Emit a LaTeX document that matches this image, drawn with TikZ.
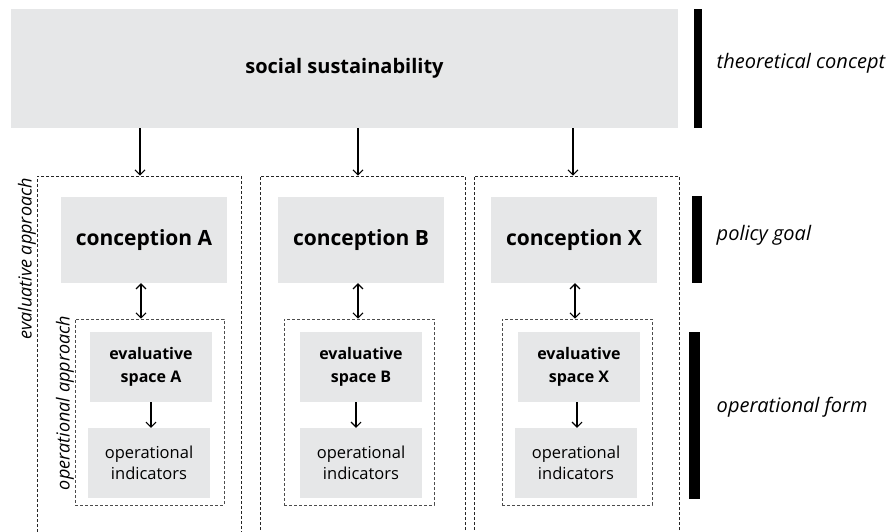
\documentclass[tikz,border=0pt]{standalone}
\usepackage{fontspec}
\setsansfont{Open Sans}
\renewcommand{\familydefault}{\sfdefault}
\usetikzlibrary{arrows.meta,positioning}
\definecolor{boxgray}{HTML}{E6E7E8}
\tikzset{
	graybox/.style={fill=boxgray, inner sep=0pt, align=center},
	frame/.style={draw=black!85, dash pattern=on 3pt off 2pt, line width=0.7pt, inner sep=0pt},
	arr/.style={line width=1.1pt, -{Straight Barb[length=5pt,width=10pt]}},
	darr/.style={line width=1.1pt, {Straight Barb[length=5pt,width=10pt]}-{Straight Barb[length=5pt,width=10pt]}},
	bar/.style={fill=black, inner sep=0pt},
	side/.style={font=\fontsize{20}{24}\selectfont\itshape},
	approach/.style={rotate=90, font=\fontsize{18}{22}\selectfont\itshape}
}

\begin{document}
\begin{tikzpicture}[x=1pt,y=-1pt]
		\clip (0,0) rectangle (894,531);
		\node[graybox, minimum width=667pt, minimum height=119pt, font=\fontsize{20}{24}\selectfont\bfseries] (top) at (344.5,68.5) {social sustainability};
		% one column per conception
		\foreach \n/\fl/\fr/\cx/\il/\ir/\ex/\nx/\ax/\dx/\sx in {A/37/241/144/75/224/151/149/140/141/151, B/260/465/361/284/434/361/361/358/358/356, X/474/679/574/502/652/579/576/573/575/577}
		{
			\node[frame, minimum width={(\fr-\fl)*1pt}, minimum height=384pt] (out\n) at ({(\fl+\fr)/2}, 368) {};
			\node[frame, draw=black!70, minimum width={(\ir-\il)*1pt}, minimum height=186pt] (in\n) at ({(\il+\ir)/2}, 412) {};
			\node[graybox, minimum width=166pt, minimum height=86pt, font=\fontsize{21}{25}\selectfont\bfseries] (conc\n) at (\cx, 240) {conception \n};
			\node[graybox, minimum width=122pt, minimum height=70pt, font=\fontsize{16}{22.5}\selectfont\bfseries] (eval\n) at (\ex, 367) {evaluative\\space \n};
			\node[graybox, minimum width=122pt, minimum height=70pt, font=\fontsize{16.5}{21.5}\selectfont] (ind\n) at (\nx, 463) {operational\\indicators};
			\coordinate (ta\n) at (\ax, 0);
			\coordinate (da\n) at (\dx, 0);
			\coordinate (sa\n) at (\sx, 0);
			\draw[arr] (top.south -| ta\n) -- (out\n.north -| ta\n);
			\draw[darr] (conc\n.south -| da\n) -- (in\n.north -| da\n);
			\draw[arr] (eval\n.south -| sa\n) -- (ind\n.north -| sa\n);
		}
		\node[approach] (evalappr) at (27, 259) {evaluative approach};
		\node[approach] (opappr) at (65, 403) {operational approach};
		% levels on the right
		\node[bar, minimum width=8pt, minimum height=119pt] (bartheo) at (698, 68.5) {};
		\node[bar, minimum width=10pt, minimum height=87pt] (barpol) at (697, 239.5) {};
		\node[bar, minimum width=11pt, minimum height=167pt] (barop) at (694.5, 415.5) {};
		\node[side, right=11pt of bartheo, yshift=5pt] (theo) {theoretical concept};
		\node[side, right=11pt of barpol, yshift=4pt] (pol) {policy goal};
		\node[side, right=13pt of barop, yshift=8pt] (op) {operational form};
	\end{tikzpicture}
\end{document}
